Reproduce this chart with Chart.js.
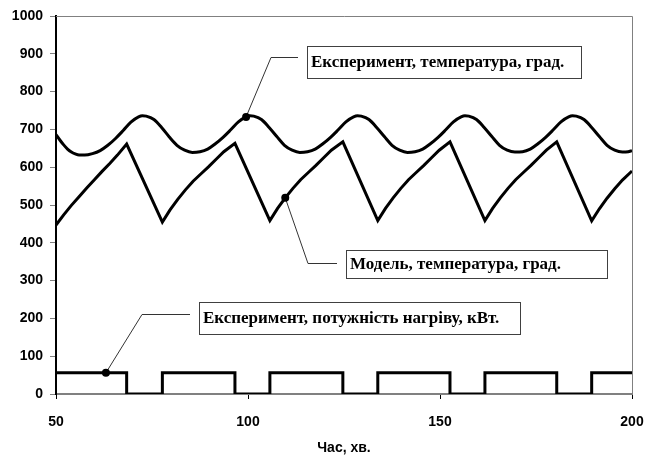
<!DOCTYPE html>
<html>
<head>
<meta charset="utf-8">
<script src="https://cdn.jsdelivr.net/npm/chart.js@4/dist/chart.umd.min.js"></script>
<style>
  html, body { margin: 0; padding: 0; background: #fff; }
  #wrap { width: 654px; height: 457px; position: relative; }
</style>
</head>
<body>
<div id="wrap"><canvas id="c" width="654" height="457"></canvas></div>
<script>
// Measured furnace temperature (time in minutes, temperature in degrees)
const expTime = [50, 51, 52, 53, 54, 55, 56, 57.5, 59.5, 61.5, 63.5, 65.5, 67.5, 69.5, 71.5, 72.5, 73.5, 75.5, 77.5, 79.5, 81.5, 83.5, 85.5,
  87.5, 89.5, 91.5, 93.5, 95.5, 97.5, 99.5, 100.5, 101.5, 103.5, 105.5, 107.5, 109.5, 111.5, 113.5,
  115.5, 117.5, 119.5, 121.5, 123.5, 125.5, 127.5, 128.5, 129.5, 131.5, 133.5, 135.5, 137.5, 139.5, 141.5,
  143.5, 145.5, 147.5, 149.5, 151.5, 153.5, 155.5, 156.5, 157.5, 159.5, 161.5, 163.5, 165.5, 167.5, 169.5,
  171.5, 173.5, 175.5, 177.5, 179.5, 181.5, 183.5, 184.5, 185.5, 187.5, 189.5, 191.5, 193.5, 195.5, 197.5, 199, 200];
const expTemp = [686, 672, 659, 648, 640, 635, 632, 632, 636, 644, 658, 676, 697, 719, 733, 736, 735, 726, 705, 680, 658, 645, 639,
  641, 648, 662, 679, 699, 720, 733, 736, 735, 726, 705, 681, 658, 645, 639,
  641, 648, 662, 679, 699, 720, 733, 736, 735, 726, 705, 681, 658, 645, 639,
  641, 648, 662, 679, 699, 720, 733, 736, 735, 726, 705, 681, 658, 645, 640,
  641, 648, 662, 679, 699, 720, 733, 736, 735, 726, 705, 681, 658, 645, 640, 641, 644];

// Model temperature
const modelTime = [50, 52, 54, 56, 58, 60, 62, 64, 66, 68.4,
  77.7, 79.7, 81.7, 83.7, 85.7, 87.7, 89.7, 91.7, 93.7, 96.6,
  105.7, 107.7, 109.7, 111.7, 113.7, 115.7, 117.7, 119.7, 121.7, 124.7,
  133.8, 135.8, 137.8, 139.8, 141.8, 143.8, 145.8, 147.8, 149.8, 152.6,
  161.7, 163.7, 165.7, 167.7, 169.7, 171.7, 173.7, 175.7, 177.7, 180.4,
  189.5, 191.5, 193.5, 195.5, 197.5, 200];
const modelTemp = [447, 474, 499, 522, 545, 567, 589, 610, 632, 661,
  455, 487, 515, 540, 563, 582, 601, 621, 641, 663,
  459, 491, 519, 544, 567, 586, 605, 625, 645, 667,
  459, 491, 519, 544, 567, 586, 605, 625, 645, 667,
  459, 491, 519, 544, 567, 586, 605, 625, 645, 667,
  458, 490, 518, 543, 566, 590];

// Heater power: switching moments and the level that starts at each one
const powerTime = [50, 68.4, 77.7, 96.6, 105.7, 124.7, 133.8, 152.6, 161.7, 180.4, 189.5, 200];
const powerKW   = [56, 0, 56, 0, 56, 0, 56, 0, 56, 0, 56, 56];

// Axis ticks
const xTicks = [50, 100, 150, 200];
const yTicks = [0, 100, 200, 300, 400, 500, 600, 700, 800, 900, 1000];

// Callout texts and the time on each series they point to
const calloutTexts = ['Експеримент, температура, град.', 'Модель, температура, град.', 'Експеримент, потужність нагріву, кВт.'];
const calloutSeries = [0, 1, 2];
const calloutTimes = [99.5, 109.7, 63];

const zip = (xs, ys) => xs.map((x, i) => ({ x, y: ys[i] }));

// Value of a drawn series at time t, following the same path the line takes
function seriesValueAt(ds, t) {
  const pts = ds.data;
  for (let i = 0; i < pts.length - 1; i++) {
    const a = pts[i], b = pts[i + 1];
    if (t >= a.x && t <= b.x) {
      if (ds.stepped) return a.y;
      if (b.x === a.x) return a.y;
      return a.y + (b.y - a.y) * (t - a.x) / (b.x - a.x);
    }
  }
  return pts[pts.length - 1].y;
}

// Layout of the callout boxes (pixels): box rect, elbow of the leader and its end
const calloutLayout = [
  { box: [307, 46, 274, 32], elbow: [271, 57], end: [298, 57] },
  { box: [346, 250, 261, 28], elbow: [308, 263], end: [337, 263] },
  { box: [199, 302, 321, 32], elbow: [142, 314], end: [190, 314] }
];

const frameAndCallouts = {
  id: 'frameAndCallouts',
  afterDatasetsDraw(chart) {
    const { ctx, chartArea: ca, scales } = chart;
    ctx.save();
    // grey frame on the top and right of the plot
    ctx.strokeStyle = '#808080';
    ctx.lineWidth = 1;
    ctx.beginPath();
    ctx.moveTo(ca.left, ca.top + 0.5);
    ctx.lineTo(ca.right + 0.5, ca.top + 0.5);
    ctx.lineTo(ca.right + 0.5, ca.bottom);
    ctx.stroke();

    calloutTexts.forEach((text, i) => {
      const ds = chart.data.datasets[calloutSeries[i]];
      const t = calloutTimes[i];
      const px = scales.x.getPixelForValue(t);
      const py = scales.y.getPixelForValue(seriesValueAt(ds, t));
      const L = calloutLayout[i];
      // leader line
      ctx.strokeStyle = '#333';
      ctx.lineWidth = 1;
      ctx.beginPath();
      ctx.moveTo(px, py);
      ctx.lineTo(L.elbow[0], L.elbow[1] + 0.5);
      ctx.lineTo(L.end[0], L.end[1] + 0.5);
      ctx.stroke();
      // marker dot
      ctx.fillStyle = '#000';
      ctx.beginPath();
      ctx.arc(px, py, 4, 0, Math.PI * 2);
      ctx.fill();
      // label box
      const [bx, by, bw, bh] = L.box;
      ctx.fillStyle = '#fff';
      ctx.fillRect(bx, by, bw, bh);
      ctx.strokeStyle = '#404040';
      ctx.lineWidth = 1;
      ctx.strokeRect(bx + 0.5, by + 0.5, bw, bh);
      ctx.fillStyle = '#000';
      ctx.font = 'bold 17px "Liberation Serif", "Times New Roman", serif';
      ctx.textBaseline = 'middle';
      ctx.textAlign = 'left';
      ctx.fillText(text, bx + 4, by + bh / 2 + 1);
    });
    ctx.restore();
  }
};

const tickFont = { family: '"Liberation Sans", Arial, sans-serif', size: 14, weight: 'bold' };

new Chart(document.getElementById('c'), {
  type: 'line',
  data: {
    datasets: [
      { label: 'Експеримент, температура, град.', data: zip(expTime, expTemp), borderColor: '#000', borderWidth: 3,
        pointRadius: 0, cubicInterpolationMode: 'monotone', fill: false },
      { label: 'Модель, температура, град.', data: zip(modelTime, modelTemp), borderColor: '#000', borderWidth: 3,
        pointRadius: 0, tension: 0, borderJoinStyle: 'miter', fill: false },
      { label: 'Експеримент, потужність нагріву, кВт.', data: zip(powerTime, powerKW), borderColor: '#000', borderWidth: 3,
        pointRadius: 0, stepped: 'before', fill: false }
    ]
  },
  options: {
    responsive: false,
    animation: false,
    events: [],
    layout: { padding: { left: 0, top: 16, right: 22, bottom: 0 } },
    plugins: { legend: { display: false }, tooltip: { enabled: false } },
    scales: {
      x: {
        type: 'linear', min: 50, max: 200,
        afterBuildTicks: (s) => { s.ticks = xTicks.map(v => ({ value: v })); },
        afterFit: (s) => { s.height = 63; s.paddingLeft = 0; s.paddingRight = 0; },
        grid: { drawOnChartArea: false, drawTicks: true, tickLength: 5, color: '#000', lineWidth: 1 },
        border: { display: true, color: '#808080', width: 2 },
        ticks: { color: '#000', font: tickFont, padding: 15, maxRotation: 0, callback: (v) => String(v) },
        title: { display: true, text: 'Час, хв.', color: '#000', font: tickFont, padding: { top: 0, bottom: 0 } }
      },
      y: {
        min: 0, max: 1000,
        afterBuildTicks: (s) => { s.ticks = yTicks.map(v => ({ value: v })); },
        afterFit: (s) => { s.width = 56; },
        grid: { drawOnChartArea: false, drawTicks: true, tickLength: 6, color: '#808080', lineWidth: 1 },
        border: { display: true, color: '#000', width: 2 },
        ticks: { color: '#000', font: tickFont, padding: 7, callback: (v) => String(v) }
      }
    }
  },
  plugins: [frameAndCallouts]
});
</script>
</body>
</html>
